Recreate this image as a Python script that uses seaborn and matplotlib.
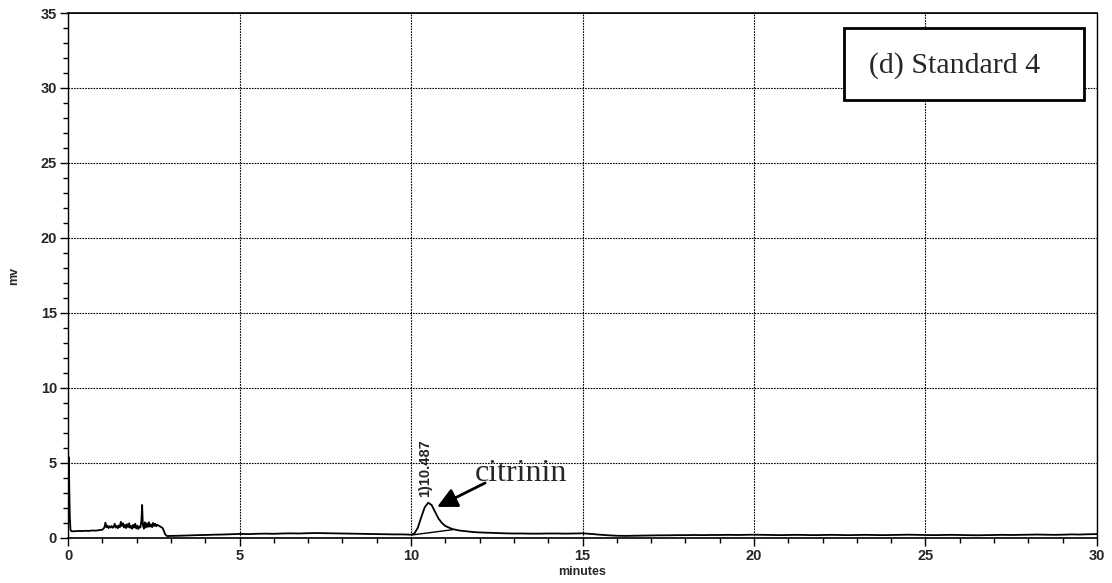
import matplotlib
matplotlib.use("Agg")
import matplotlib.pyplot as plt
from matplotlib.ticker import MultipleLocator
from matplotlib.patches import FancyArrowPatch, Rectangle
import seaborn as sns
import pandas as pd

# Chromatogram trace (minutes, mV)
time_min = [
    0.00, 0.01, 0.02, 0.03, 0.05, 0.07, 0.10, 0.20, 0.30, 0.40, 0.50, 0.60,
    0.70, 0.80, 0.90, 1.00,
    1.03, 1.06, 1.09, 1.12, 1.15, 1.18, 1.21, 1.24, 1.27, 1.30, 1.33, 1.36,
    1.39, 1.42, 1.45, 1.48, 1.51, 1.54, 1.57, 1.60, 1.63, 1.66, 1.69, 1.72,
    1.75, 1.78, 1.81, 1.84, 1.87, 1.90, 1.93, 1.96, 1.99, 2.02, 2.05, 2.08,
    2.11, 2.14, 2.16, 2.18, 2.21, 2.24, 2.27, 2.30, 2.33, 2.36, 2.39, 2.42,
    2.45, 2.48, 2.51, 2.54, 2.57, 2.60, 2.63, 2.66, 2.69, 2.72, 2.75,
    2.78, 2.82, 2.86, 2.90, 3.00, 3.25, 3.50, 3.75, 4.00, 4.25, 4.50, 4.75,
    5.00, 5.25, 5.50, 5.75, 6.00, 6.25, 6.50, 6.75, 7.00, 7.25, 7.50, 7.75,
    8.00, 8.25, 8.50, 8.75, 9.00, 9.25, 9.50, 9.75,
    10.00, 10.10, 10.20, 10.30, 10.40, 10.50, 10.60, 10.70, 10.80, 10.90,
    11.00, 11.20, 11.40, 11.60, 11.80, 12.00, 12.25, 12.50, 12.75, 13.00,
    13.25, 13.50, 13.75, 14.00, 14.25, 14.50, 14.75, 15.00, 15.25, 15.50,
    15.75, 16.00, 16.25, 16.50, 16.75, 17.00, 17.25, 17.50, 17.75, 18.00,
    18.25, 18.50, 18.75, 19.00, 19.25, 19.50, 19.75, 20.00, 20.25, 20.50,
    20.75, 21.00, 21.25, 21.50, 21.75, 22.00, 22.25, 22.50, 22.75, 23.00,
    23.25, 23.50, 23.75, 24.00, 24.25, 24.50, 24.75, 25.00, 25.25, 25.50,
    25.75, 26.00, 26.25, 26.50, 26.75, 27.00, 27.25, 27.50, 27.75, 28.00,
    28.25, 28.50, 28.75, 29.00, 29.25, 29.50, 29.75, 30.00,
]
signal_mv = [
    0.30, 3.00, 5.40, 4.20, 1.50, 0.55, 0.45, 0.45, 0.47, 0.46, 0.48, 0.47,
    0.50, 0.49, 0.52, 0.55,
    0.62, 0.70, 1.02, 0.72, 0.82, 0.66, 0.78, 0.70, 0.80, 0.68, 0.74, 0.95,
    0.70, 0.80, 0.65, 0.84, 0.72, 1.08, 0.80, 0.98, 0.70, 0.88, 0.66, 0.92,
    0.72, 0.98, 0.68, 0.80, 0.62, 0.88, 0.70, 0.95, 0.64, 0.82, 0.60, 0.78,
    0.70, 1.20, 2.20, 0.90, 0.62, 1.05, 0.70, 0.98, 0.74, 1.05, 0.76, 0.90,
    0.72, 1.00, 0.80, 0.95, 0.78, 0.88, 0.84, 0.80, 0.76, 0.72, 0.68,
    0.55, 0.30, 0.17, 0.13, 0.14, 0.15, 0.17, 0.19, 0.20, 0.22, 0.23, 0.25,
    0.27, 0.26, 0.28, 0.29, 0.28, 0.30, 0.31, 0.30, 0.32, 0.33, 0.32, 0.31,
    0.30, 0.29, 0.28, 0.27, 0.26, 0.25, 0.24, 0.24,
    0.22, 0.30, 0.70, 1.40, 2.05, 2.35, 2.20, 1.75, 1.30, 1.00,
    0.80, 0.60, 0.50, 0.45, 0.40, 0.37, 0.35, 0.33, 0.31, 0.30,
    0.30, 0.29, 0.29, 0.30, 0.30, 0.29, 0.30, 0.31, 0.27, 0.22,
    0.18, 0.15, 0.14, 0.15, 0.16, 0.17, 0.18, 0.18, 0.19, 0.19,
    0.20, 0.19, 0.20, 0.20, 0.21, 0.20, 0.21, 0.22, 0.21, 0.20,
    0.19, 0.20, 0.21, 0.20, 0.19, 0.20, 0.21, 0.20, 0.19, 0.20,
    0.21, 0.20, 0.19, 0.20, 0.21, 0.22, 0.21, 0.20, 0.19, 0.20,
    0.21, 0.20, 0.19, 0.18, 0.19, 0.20, 0.21, 0.20, 0.21, 0.22,
    0.23, 0.22, 0.21, 0.22, 0.24, 0.23, 0.25, 0.26,
]

# Integration baseline under the citrinin peak
baseline_time = [10.02, 11.20]
baseline_mv = [0.20, 0.55]

peak_label = "1)10.487"
peak_time = 10.487
panel_title = "(d) Standard 4"
compound = "citrinin"

sns.set_style("white")
plt.rcParams["font.family"] = ["Liberation Sans", "DejaVu Sans"]

fig = plt.figure(figsize=(11.12, 5.83), dpi=100)
ax = fig.add_axes([0.0612, 0.0772, 0.9253, 0.9005])

df = pd.DataFrame({"minutes": time_min, "mv": signal_mv})
sns.lineplot(data=df, x="minutes", y="mv", sort=False, color="black",
             lw=1.3, ax=ax)
sns.lineplot(x=baseline_time, y=baseline_mv, color="black", lw=1.0, ax=ax)

ax.set_xlim(0, 30)
ax.set_ylim(0, 35)
ax.xaxis.set_major_locator(MultipleLocator(5))
ax.xaxis.set_minor_locator(MultipleLocator(1))
ax.yaxis.set_major_locator(MultipleLocator(5))
ax.yaxis.set_minor_locator(MultipleLocator(1))
ax.tick_params(which="major", direction="out", length=6, width=1,
               labelsize=10.5, pad=2, color="black")
ax.tick_params(which="minor", direction="out", length=3.5, width=1,
               color="black")
ax.tick_params(axis="x", which="both", top=False, bottom=True)
ax.tick_params(axis="y", which="both", left=True, right=False)
for lab in ax.get_xticklabels() + ax.get_yticklabels():
    lab.set_fontweight("bold")

ax.grid(True, which="major", color="black", lw=0.8, ls=(0, (1.5, 1.0)))
for side in ("top", "bottom"):
    ax.spines[side].set_color("black")
    ax.spines[side].set_linewidth(1.2)
for side in ("left", "right"):
    ax.spines[side].set_color("black")
    ax.spines[side].set_linewidth(1.0)
    ax.spines[side].set_linestyle((0, (1.5, 1.0)))

ax.set_xlabel("minutes", fontsize=9, fontweight="bold", labelpad=2)
ax.set_ylabel("mv", fontsize=9, fontweight="bold", labelpad=15)

# Peak retention-time label
ax.text(peak_time - 0.07, 2.7, peak_label, rotation=90, fontsize=10.5,
        fontweight="bold", ha="center", va="bottom")

# Compound name with arrow
ax.text(11.85, 3.8, compound, fontsize=23, family="Liberation Serif",
        ha="left", va="baseline")
arrow = FancyArrowPatch((12.16, 3.67), (10.76, 2.07), arrowstyle="-|>",
                        mutation_scale=30, lw=2.0, color="black",
                        shrinkA=0, shrinkB=0)
ax.add_patch(arrow)

# Panel title box
ax.add_patch(Rectangle((0.7541, 0.8343), 0.2333, 0.1371,
                       transform=ax.transAxes, fc="white", ec="black",
                       lw=2.0, zorder=5))
ax.text(0.862, 0.900, panel_title, transform=ax.transAxes, fontsize=21.5,
        family="Liberation Serif", ha="center", va="center", zorder=6)

fig.savefig("out.png", dpi=100)
